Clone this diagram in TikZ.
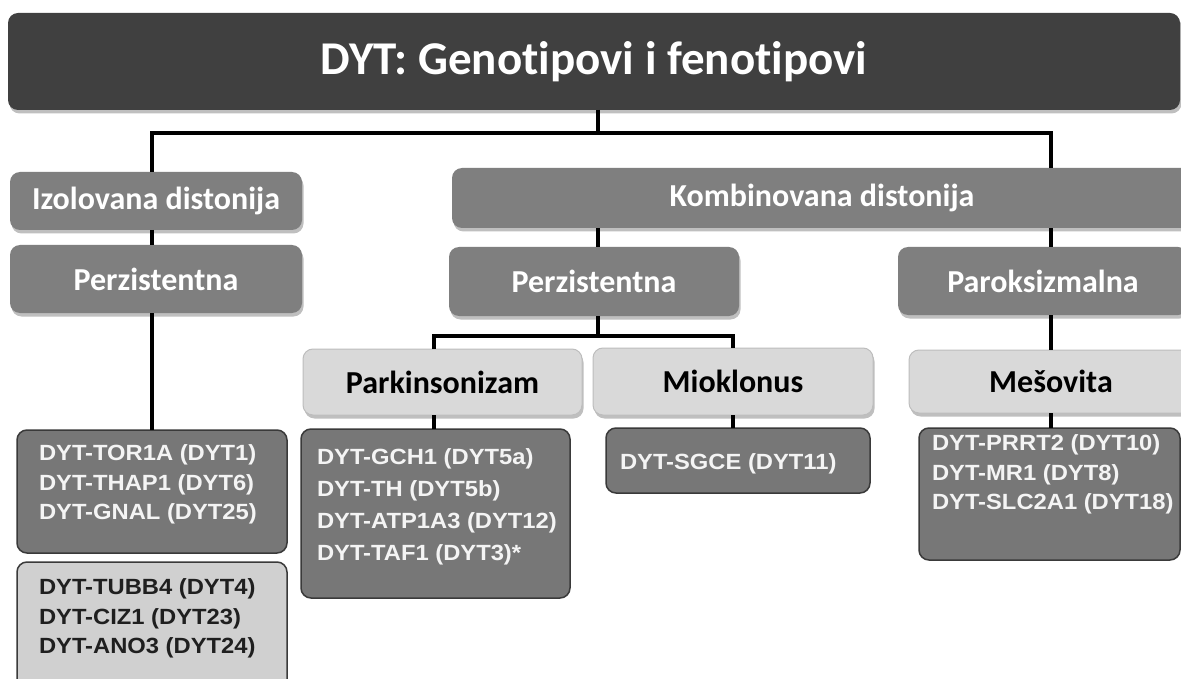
\documentclass[tikz,border=0pt]{standalone}
\usepackage{fontspec}
\setmainfont{Carlito}[Ligatures=NoCommon]
\newfontfamily\genefont{Liberation Sans}[FakeStretch=1.08]
\usetikzlibrary{shadows}

\definecolor{titlegray}{HTML}{404040}
\definecolor{midgray}{HTML}{7F7F7F}
\definecolor{genegray}{HTML}{777777}
\definecolor{paleboxgray}{HTML}{D9D9D9}
\definecolor{paleedge}{HTML}{BDBDBD}
\definecolor{tubbgray}{HTML}{D0D0D0}
\definecolor{edgegray}{HTML}{3A3A3A}
\definecolor{genetext}{HTML}{F4F4F4}

\tikzset{
  boxbase/.style={inner sep=0pt, outer sep=0pt, rounded corners=10pt},
  softshadow/.style={drop shadow={shadow xshift=1.5pt, shadow yshift=-3.5pt, opacity=0.25, fill=black}},
  titlebox/.style={boxbase, fill=titlegray, text=white, softshadow,
    font=\bfseries\fontsize{47}{52}\selectfont},
  catbox/.style={boxbase, fill=midgray, text=white, softshadow,
    font=\bfseries\fontsize{32}{36}\selectfont},
  subbox/.style={boxbase, fill=paleboxgray, draw=paleedge, line width=1pt, text=black, softshadow,
    font=\bfseries\fontsize{32}{36}\selectfont},
  genebox/.style={boxbase, fill=genegray, draw=edgegray, line width=1.5pt},
  palegenebox/.style={boxbase, fill=tubbgray, draw=edgegray, line width=1.5pt},
  genelist/.style={inner sep=0pt, outer sep=0pt, anchor=north west, align=left,
    text=genetext, font=\genefont\bfseries\fontsize{22}{29.5}\selectfont},
  conn/.style={draw=black, line width=3.2pt},
}

\begin{document}
\begin{tikzpicture}[x=1pt, y=-1pt]
  \clip (0,0) rectangle (1181,679);
  \fill[white] (0,0) rectangle (1181,679);

  % heading
  \node[titlebox, minimum width=1172pt, minimum height=97pt] (title) at (594,61.5)
    {DYT: Genotipovi i fenotipovi};

  % first level
  \node[catbox, minimum width=292pt, minimum height=58pt] (izo) at (156,201)
    {Izolovana distonija};
  \node[catbox, minimum width=740pt, minimum height=60pt] (kom) at (822,198)
    {Kombinovana distonija};

  % second level
  \node[catbox, minimum width=292pt, minimum height=68pt] (per1) at (156,279)
    {Perzistentna};
  \node[catbox, minimum width=290pt, minimum height=69pt] (per2) at (594,281.5)
    {Perzistentna};
  \node[catbox, minimum width=290pt, minimum height=68pt] (par) at (1043,281)
    {Paroksizmalna};

  % third level
  \node[subbox, minimum width=279pt, minimum height=66pt] (park) at (442.5,382)
    {Parkinsonizam};
  \node[subbox, minimum width=280pt, minimum height=67pt] (mio) at (733,381.5)
    {Mioklonus};
  \node[subbox, minimum width=284pt, minimum height=63pt] (mes) at (1051,381.5)
    {Mešovita};

  % gene panels
  \node[genebox, minimum width=270pt, minimum height=123pt] (g1) at (152,491.5) {};
  \node[palegenebox, minimum width=270pt, minimum height=140pt] (g2) at (152,632) {};
  \node[genebox, minimum width=269pt, minimum height=169pt] (g3) at (435.5,513.5) {};
  \node[genebox, minimum width=264pt, minimum height=65pt] (g4) at (738,460.5) {};
  \node[genebox, minimum width=261pt, minimum height=132pt] (g5) at (1049.5,494) {};

  \node[genelist] (g1t) at (39,445)
    {DYT-TOR1A (DYT1)\\DYT-THAP1 (DYT6)\\DYT-GNAL (DYT25)};
  \node[genelist, text=black!88] (g2t) at (39,579)
    {DYT-TUBB4 (DYT4)\\DYT-CIZ1 (DYT23)\\DYT-ANO3 (DYT24)};
  \node[genelist, font=\genefont\bfseries\fontsize{22}{32}\selectfont] (g3t) at (317,449)
    {DYT-GCH1 (DYT5a)\\DYT-TH (DYT5b)\\DYT-ATP1A3 (DYT12)\\DYT-TAF1 (DYT3)*};
  \node[genelist] (g4t) at (620,454)
    {DYT-SGCE (DYT11)};
  \node[genelist] (g5t) at (932,435)
    {DYT-PRRT2 (DYT10)\\DYT-MR1 (DYT8)\\DYT-SLC2A1 (DYT18)};

  % junction points of the tree
  \coordinate (jtop) at (598,133);
  \coordinate (jleft) at (152,133);
  \coordinate (jright) at (1051,133);
  \coordinate (jmid) at (598,336);
  \coordinate (jpark) at (434,336);
  \coordinate (jmio) at (733,336);

  % connectors
  \draw[conn] (title.south -| jtop) -- (jtop);
  \draw[conn] (izo.north -| jleft) -- (jleft) -- (jright) -- (kom.north -| jright);
  \draw[conn] (izo.south -| jleft) -- (per1.north -| jleft);
  \draw[conn] (per1.south -| jleft) -- (g1.north -| jleft);
  \draw[conn] (kom.south -| jtop) -- (per2.north -| jtop);
  \draw[conn] (kom.south -| jright) -- (par.north -| jright);
  \draw[conn] (per2.south -| jmid) -- (jmid);
  \draw[conn] (park.north -| jpark) -- (jpark) -- (jmio) -- (mio.north -| jmio);
  \draw[conn] (park.south -| jpark) -- (g3.north -| jpark);
  \draw[conn] (mio.south -| jmio) -- (g4.north -| jmio);
  \draw[conn] (par.south -| jright) -- (mes.north -| jright);
  \draw[conn] (mes.south -| jright) -- (g5.north -| jright);
\end{tikzpicture}
\end{document}
